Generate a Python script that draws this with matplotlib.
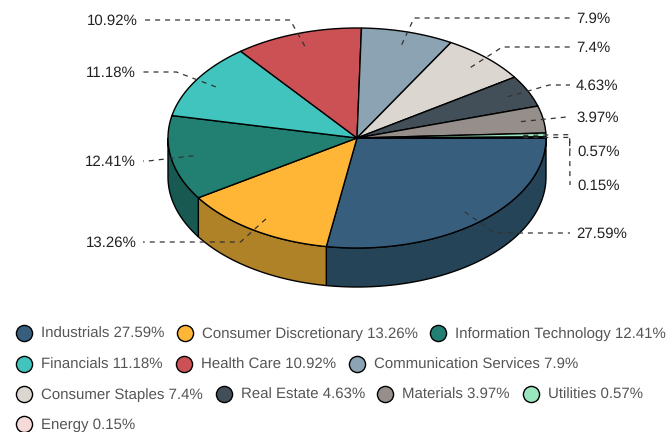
import numpy as np
import matplotlib
matplotlib.use('Agg')
import matplotlib.pyplot as plt

plt.rcParams['font.family'] = ['Liberation Sans', 'DejaVu Sans']
plt.rcParams['text.hinting'] = 'no_hinting'
plt.rcParams['text.hinting_factor'] = 1

# Sector weights, in drawing order (clockwise from 3 o'clock)
sectors = ['Industrials', 'Consumer Discretionary', 'Information Technology',
           'Financials', 'Health Care', 'Communication Services',
           'Consumer Staples', 'Real Estate', 'Materials', 'Utilities', 'Energy']
weights = [27.59, 13.26, 12.41, 11.18, 10.92, 7.9, 7.4, 4.63, 3.97, 0.57, 0.15]
top_colors = ['#375F7D', '#FFB636', '#228073', '#40C4BD', '#CC5155', '#8BA3B2',
              '#DCD6D0', '#434F58', '#958E8A', '#98E5BE', '#F6DADA']
side_colors = ['#254458', '#B08228', '#185A51', '#2D8A85', '#8F393C', '#62727D',
               '#9A9692', '#2F373E', '#686361', '#6AA085', '#ACA0A0']

# Layout in pixels
cx, cy, rx, ry, depth = 357, 138, 189, 110, 39
label_y = [233, 242, 161, 72, 20, 18, 47, 85, 117, 151, 185]
label_right = [576, 137, 136, 136, 138, 576, 576, 576, 576, 577, 577]
label_side = [1, -1, -1, -1, -1, 1, 1, 1, 1, 1, 1]
legend_rows = [[(24, 0), (185, 1), (438, 2)],
               [(24, 3), (184, 4), (357, 5)],
               [(24, 6), (224, 7), (385, 8), (531, 9)],
               [(24, 10)]]
legend_y = [333, 364, 394, 424]

fig = plt.figure(figsize=(6.66, 4.32), dpi=100)
ax = fig.add_axes([0, 0, 1, 1])
ax.set_xlim(0, 666)
ax.set_ylim(432, 0)
ax.axis('off')


def ell(a, r=1.0):
    return cx + r * rx * np.cos(a), cy + r * ry * np.sin(a)


edges = np.cumsum([0] + weights) / sum(weights) * 2 * np.pi
edge_lw = 1.0

# side walls: only the front half of the cylinder shows
for i in range(len(weights)):
    a0, a1 = edges[i], min(edges[i + 1], np.pi)
    if a0 >= np.pi:
        continue
    t = np.linspace(a0, a1, 80)
    x, y = ell(t)
    ax.fill(np.r_[x, x[::-1]], np.r_[y, y[::-1] + depth],
            facecolor=side_colors[i], edgecolor='black', lw=edge_lw, zorder=2)

# top faces
for i in range(len(weights)):
    t = np.linspace(edges[i], edges[i + 1], 120)
    x, y = ell(t)
    ax.fill(np.r_[cx, x], np.r_[cy, y], facecolor=top_colors[i],
            edgecolor='black', lw=edge_lw, zorder=3)

# leader lines and labels
for i, w in enumerate(weights):
    mid = (edges[i] + edges[i + 1]) / 2
    sx, sy = ell(mid, 0.88)
    ex, ey = ell(mid, 1.125)
    end_x = 570 if label_side[i] > 0 else 143
    if abs(ey - label_y[i]) > 8:
        xs, ys = [sx, ex, end_x], [sy, ey, label_y[i]]
    else:
        xs, ys = [sx, ex, end_x], [sy, label_y[i], label_y[i]]
    ax.plot(xs, ys, color='#333333', lw=0.9, dashes=(4, 4), zorder=4)
    ax.text(label_right[i], label_y[i] + 1, f'{w:g}%',
            ha='left' if label_side[i] > 0 else 'right', va='center',
            fontsize=10.8, color='#222222', zorder=5)

# legend
for row, y in zip(legend_rows, legend_y):
    for x, i in row:
        ax.scatter([x], [y], s=135, facecolor=top_colors[i], edgecolor='black',
                   lw=1.0, zorder=5)
        ax.text(x + 17, y + 1, f'{sectors[i]} {weights[i]:g}%', ha='left', va='center',
                fontsize=10.8, color='#555555')

fig.savefig('out.png', dpi=100)
